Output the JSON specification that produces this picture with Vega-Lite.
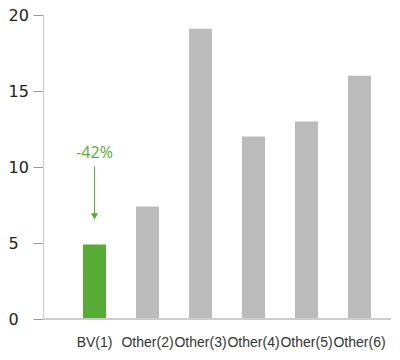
{
  "$schema": "https://vega.github.io/schema/vega-lite/v6.json",
  "autosize": "none",
  "width": 348,
  "height": 304,
  "padding": {"left": 43, "top": 15, "right": 9, "bottom": 41},
  "background": "white",
  "config": {"view": {"stroke": null}},
  "datasets": {
    "bars": [
      {"category": "BV(1)", "value": 4.9, "group": "BV"},
      {"category": "Other(2)", "value": 7.4, "group": "Other"},
      {"category": "Other(3)", "value": 19.1, "group": "Other"},
      {"category": "Other(4)", "value": 12.0, "group": "Other"},
      {"category": "Other(5)", "value": 13.0, "group": "Other"},
      {"category": "Other(6)", "value": 16.0, "group": "Other"}
    ],
    "note": [
      {"category": "BV(1)", "label": "-42%", "textY": 10.9, "arrowTop": 10.05, "arrowEnd": 6.9, "headY": 6.75}
    ]
  },
  "encoding": {
    "x": {
      "field": "category",
      "type": "nominal",
      "sort": null,
      "scale": {"paddingInner": 0.566, "paddingOuter": 0.566, "align": 0.667},
      "axis": {
        "title": null,
        "domain": false,
        "ticks": false,
        "labelAngle": 0,
        "labelOverlap": false,
        "labelFont": "Liberation Sans",
        "labelFontSize": 14,
        "labelColor": "#333333",
        "labelPadding": 16
      }
    }
  },
  "layer": [
    {
      "data": {"name": "bars"},
      "mark": {"type": "bar"},
      "encoding": {
        "y": {
          "field": "value",
          "type": "quantitative",
          "scale": {"domain": [0, 20], "nice": false},
          "axis": {
            "title": null,
            "values": [0, 5, 10, 15, 20],
            "grid": false,
            "domainColor": "#cccccc",
            "tickColor": "#999999",
            "tickSize": 10,
            "labelAlign": "left",
            "labelPadding": 25,
            "labelFont": "DejaVu Sans",
            "labelFontSize": 16,
            "labelColor": "#222222"
          }
        },
        "color": {
          "field": "group",
          "type": "nominal",
          "scale": {"domain": ["BV", "Other"], "range": ["#58AB37", "#BBBBBB"]},
          "legend": null
        }
      }
    },
    {
      "data": {"name": "bars"},
      "mark": {"type": "rule", "color": "#cccccc", "strokeWidth": 1},
      "encoding": {"x": null, "y": {"datum": 0, "type": "quantitative"}}
    },
    {
      "data": {"name": "note"},
      "mark": {"type": "text", "color": "#58AB37", "font": "Open Sans", "fontSize": 16, "baseline": "middle"},
      "encoding": {
        "y": {"field": "textY", "type": "quantitative"},
        "text": {"field": "label"}
      }
    },
    {
      "data": {"name": "note"},
      "mark": {"type": "rule", "color": "#58AB37", "strokeWidth": 1},
      "encoding": {
        "y": {"field": "arrowTop", "type": "quantitative"},
        "y2": {"field": "arrowEnd"}
      }
    },
    {
      "data": {"name": "note"},
      "mark": {"type": "point", "shape": "triangle-down", "filled": true, "color": "#58AB37", "size": 50, "opacity": 1},
      "encoding": {
        "y": {"field": "headY", "type": "quantitative"}
      }
    }
  ]
}
